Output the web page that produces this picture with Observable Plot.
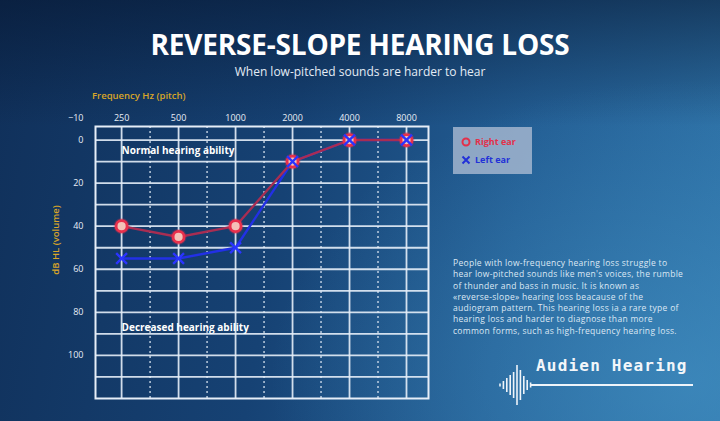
<!DOCTYPE html>
<html>
<head>
<meta charset="utf-8">
<script src="https://cdn.jsdelivr.net/npm/d3@7"></script>
<script src="https://cdn.jsdelivr.net/npm/@observablehq/plot@0.6"></script>
<style>
  html, body { margin: 0; padding: 0; }
  body {
    width: 720px; height: 421px; overflow: hidden; position: relative;
    font-family: "Open Sans", sans-serif;
    background:
      radial-gradient(ellipse 420px 300px at 690px 380px, rgba(70,150,200,0.55), rgba(70,150,200,0) 100%),
      linear-gradient(180deg, rgba(5,20,45,0.55) 0%, rgba(5,20,45,0) 30%),
      linear-gradient(100deg, #10305a 0%, #164274 40%, #235e94 70%, #2f74a9 100%);
  }
  .abs { position: absolute; }
  #title { left: 0; width: 720px; top: 25px; text-align: center; color: #ffffff; font-weight: 700; font-size: 28px; letter-spacing: -0.2px; }
  #subtitle { left: 0; width: 720px; top: 63px; text-align: center; color: #e4ecf5; font-size: 12px; }
  #xlabel { left: 92px; top: 89px; color: #d8a528; font-size: 9.5px; font-weight: 600; }
  #ylabel { left: 55px; top: 240px; color: #d8a528; font-size: 9.5px; font-weight: 600; transform: translate(-50%, -50%) rotate(-90deg); white-space: nowrap; }
  #legend { left: 453px; top: 127px; width: 79px; height: 47px; background: rgba(170,186,210,0.8); font-size: 9px; font-weight: 700; }
  #legend div { position: absolute; left: 8px; display: flex; align-items: center; gap: 4px; }
  #para { left: 453px; top: 257px; color: #dde8f4; }
  #para div { font-size: 8.5px; height: 11.3px; line-height: 11.3px; white-space: nowrap; letter-spacing: 0.3px; }
  #brand { left: 536px; top: 356px; color: #f2f6fa; font-family: "DejaVu Sans Mono", monospace; font-weight: 700; font-size: 16px; letter-spacing: 1.2px; }
  #chart { left: 0; top: 0; }
</style>
</head>
<body>
<div id="chart" class="abs"></div>
<div id="title" class="abs"></div>
<div id="subtitle" class="abs"></div>
<div id="xlabel" class="abs"></div>
<div id="ylabel" class="abs"></div>
<div id="legend" class="abs"></div>
<div id="para" class="abs"></div>
<div id="brand" class="abs"></div>
<svg id="logo" class="abs" style="left:490px;top:355px" width="210" height="60"></svg>
<script>
// ---- data ----
const frequencies = [250, 500, 1000, 2000, 4000, 8000];
const rightEar = [40, 45, 40, 10, 0, 0];
const leftEar = [55, 55, 50, 10, 0, 0];
const yTickValues = [-10, 0, 20, 40, 60, 80, 100];
const gridLevels = [0, 10, 20, 30, 40, 50, 60, 70, 80, 90, 100, 110];
const seriesNames = ["Right ear", "Left ear"];
const zoneLabels = ["Normal hearing ability", "Decreased hearing ability"];
const zoneLevels = [5, 87];
const titleText = "REVERSE-SLOPE HEARING LOSS";
const subtitleText = "When low-pitched sounds are harder to hear";
const xAxisTitle = "Frequency Hz (pitch)";
const yAxisTitle = "dB HL (volume)";
const paragraphLines = [
  "People with low-frequency hearing loss struggle to",
  "hear low-pitched sounds like men's voices, the rumble",
  "of thunder and bass in music. It is known as",
  "«reverse-slope» hearing loss beacause of the",
  "audiogram pattern. This hearing loss ia a rare type of",
  "hearing loss and harder to diagnose than more",
  "common forms, such as high-frequency hearing loss."
];
const brandText = "Audien Hearing";
const waveHeights = [3, 8, 14, 20, 26, 40, 30, 18, 10, 5];

// ---- build ----
const rows = [];
frequencies.forEach((f, i) => {
  rows.push({freq: f, db: rightEar[i], ear: seriesNames[0]});
  rows.push({freq: f, db: leftEar[i], ear: seriesNames[1]});
});
const rightRows = rows.filter(d => d.ear === seriesNames[0]);
const leftRows = rows.filter(d => d.ear === seriesNames[1]);
const midFreqs = d3.pairs(frequencies).map(([a, b]) => Math.sqrt(a * b));
const zones = zoneLabels.map((t, i) => ({text: t, db: zoneLevels[i], freq: frequencies[0]}));

const gridColor = "#e6eef8";
const plot = Plot.plot({
  width: 720,
  height: 421,
  marginLeft: 95,
  marginRight: 292,
  marginTop: 126,
  marginBottom: 23,
  style: {background: "transparent", color: "#e8eef6", fontFamily: "Open Sans, sans-serif"},
  x: {type: "log", domain: [182, 10455], range: [95, 428], axis: null},
  y: {domain: [-10, 120], range: [118, 398]},
  marks: [
    Plot.ruleY(gridLevels, {stroke: gridColor, strokeWidth: 1.8, strokeOpacity: 0.9}),
    Plot.ruleX(frequencies, {stroke: gridColor, strokeWidth: 1.8, strokeOpacity: 0.9}),
    Plot.ruleX(midFreqs, {stroke: gridColor, strokeWidth: 1.4, strokeDasharray: "2,3", strokeOpacity: 0.85}),
    Plot.frame({stroke: gridColor, strokeWidth: 2}),
    Plot.text(frequencies, {x: d => d, frameAnchor: "top", dy: -12, text: d => String(d), fontSize: 9, fill: "#e8eef6"}),
    Plot.axisY(yTickValues, {anchor: "left", tickSize: 0, tickPadding: 12, fontSize: 9, fill: "#e8eef6", label: null}),
    Plot.text(zones, {x: "freq", y: "db", text: "text", textAnchor: "start", fill: "#ffffff", fontSize: 10, fontWeight: 700}),
    Plot.line(leftRows, {x: "freq", y: "db", stroke: "#2230e6", strokeWidth: 2.4}),
    Plot.line(rightRows, {x: "freq", y: "db", stroke: "#a82d52", strokeWidth: 2.4}),
    Plot.dot(rightRows, {x: "freq", y: "db", r: 8, fill: "#e0304c", fillOpacity: 0.3, stroke: "none"}),
    Plot.dot(rightRows, {x: "freq", y: "db", r: 5.5, stroke: "#e8304c", strokeWidth: 2.8, fill: "#f4c2b8"}),
    Plot.dot(leftRows, {x: "freq", y: "db", symbol: "times", r: 5, stroke: "#2a34ff", strokeWidth: 2.4})
  ]
});
document.getElementById("chart").appendChild(plot);

document.getElementById("title").textContent = titleText;
document.getElementById("subtitle").textContent = subtitleText;
document.getElementById("xlabel").textContent = xAxisTitle;
document.getElementById("ylabel").textContent = yAxisTitle;
const para = d3.select("#para");
paragraphLines.forEach(t => para.append("div").text(t));
document.getElementById("brand").textContent = brandText;

const legend = document.getElementById("legend");
legend.innerHTML =
  `<div style="top:8px;color:#e3304a"><svg width="10" height="10"><circle cx="5" cy="5" r="3.5" fill="none" stroke="#e3304a" stroke-width="2"/></svg>${seriesNames[0]}</div>` +
  `<div style="top:26px;color:#2231d8"><svg width="10" height="10"><path d="M1.5,1.5L8.5,8.5M8.5,1.5L1.5,8.5" stroke="#2231d8" stroke-width="2"/></svg>${seriesNames[1]}</div>`;

// logo waveform
const logo = d3.select("#logo");
const cy = 30;
logo.append("line").attr("x1", 40).attr("x2", 203).attr("y1", cy).attr("y2", cy).attr("stroke", "#eef4fa").attr("stroke-width", 2.2);
waveHeights.forEach((h, i) => {
  logo.append("line").attr("x1", 10 + i * 3.4).attr("x2", 10 + i * 3.4)
    .attr("y1", cy - h / 2).attr("y2", cy + h / 2)
    .attr("stroke", "#eef4fa").attr("stroke-width", 1.6);
});
</script>
</body>
</html>
